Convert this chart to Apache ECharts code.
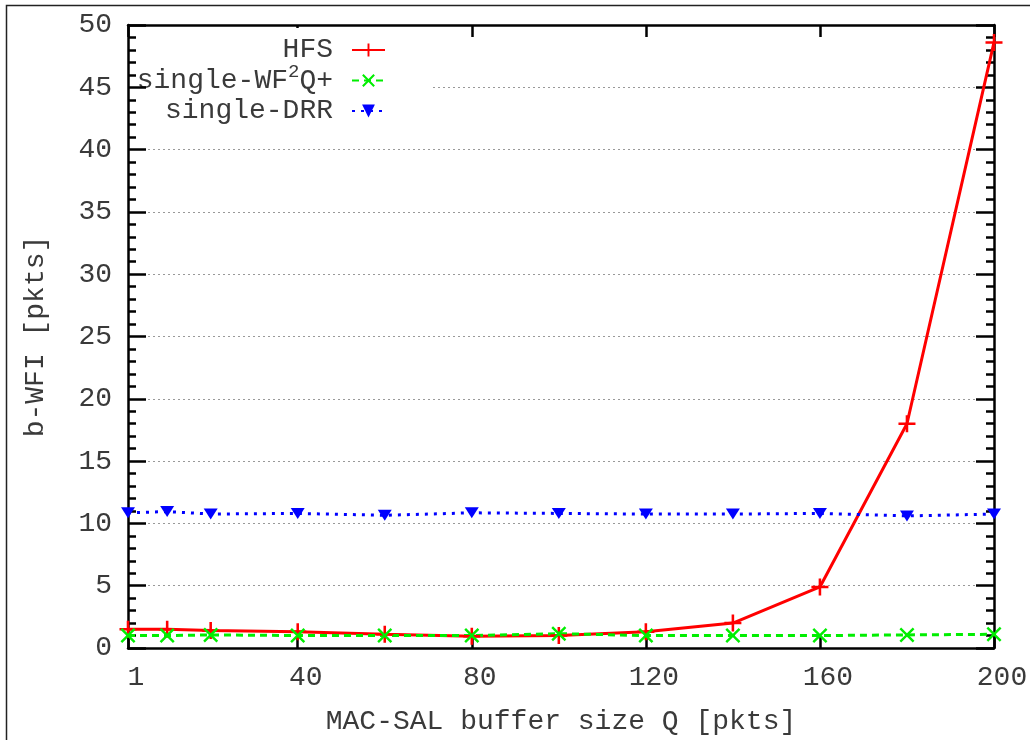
<!DOCTYPE html>
<html><head><meta charset="utf-8">
<script src="https://cdn.jsdelivr.net/npm/echarts@6/dist/echarts.min.js"></script>
<style>html,body{margin:0;padding:0;background:#fff}#c{width:1030px;height:740px}</style>
</head><body><div id="c"></div>
<script>
const xValues = [1, 10, 20, 40, 60, 80, 100, 120, 140, 160, 180, 200];
const hfsValues = [1.5, 1.5, 1.4, 1.3, 1.1, 0.95, 1.0, 1.3, 2.0, 4.9, 18.0, 48.6];
const wf2qValues = [1.0, 1.0, 1.05, 1.0, 1.0, 1.0, 1.15, 1.0, 1.0, 1.0, 1.05, 1.1];
const drrValues = [10.85, 10.95, 10.75, 10.8, 10.65, 10.85, 10.8, 10.75, 10.75, 10.8, 10.6, 10.75];
const xTickValues = [1, 40, 80, 120, 160, 200];
const seriesNames = ['HFS', 'single-WF2Q+', 'single-DRR'];
const xTitle = 'MAC-SAL buffer size Q [pkts]';
const yTitle = 'b-WFI [pkts]';

const FONT = 'Liberation Mono';
const TXT = '#3a3a3a';
const pair = ys => xValues.map((x, i) => [x, ys[i]]);
const plusPath = 'path://M-1.2,-8L1.2,-8L1.2,-1.2L8,-1.2L8,1.2L1.2,1.2L1.2,8L-1.2,8L-1.2,1.2L-8,1.2L-8,-1.2L-1.2,-1.2Z';
const crossPath = 'path://M-7,-5.4L-5.4,-7L0,-1.6L5.4,-7L7,-5.4L1.6,0L7,5.4L5.4,7L0,1.6L-5.4,7L-7,5.4L-1.6,0Z';
const blk = {color: '#000', width: 2.5};
const gridLine = {show: true, lineStyle: {color: '#999', width: 1, type: [2, 3]}};

const chart = echarts.init(document.getElementById('c'));
chart.setOption({
  animation: false,
  backgroundColor: '#fff',
  graphic: [{type: 'rect', z: 100, silent: true,
    shape: {x: 6.5, y: 5.5, width: 1100, height: 800},
    style: {fill: null, stroke: '#222', lineWidth: 1.5}}],
  grid: {left: 128, right: 36, top: 25, bottom: 92, outerBoundsMode: 'none'},
  legend: {
    orient: 'vertical', right: 600, top: 28, align: 'right',
    itemWidth: 33, itemHeight: 16, itemGap: -5.5,
    padding: [4, 44, 4, 6], backgroundColor: '#fff',
    data: seriesNames,
    formatter: n => n === 'single-WF2Q+' ? 'single-WF{s|2}Q+' : n,
    textStyle: {fontFamily: FONT, fontSize: 28, lineHeight: 36, color: TXT, padding: [0, 14, 0, 0],
      rich: {s: {fontFamily: FONT, fontSize: 19, color: TXT, verticalAlign: 'top'}}}
  },
  xAxis: [{
    type: 'value', position: 'bottom', min: 1, max: 200,
    name: xTitle, nameLocation: 'middle', nameGap: 60,
    nameTextStyle: {fontFamily: FONT, fontSize: 28, color: TXT},
    axisLine: {show: true, onZero: false, lineStyle: blk},
    axisTick: {show: true, inside: true, length: 12, customValues: xTickValues, lineStyle: blk},
    axisLabel: {customValues: xTickValues, fontFamily: FONT, fontSize: 28, color: TXT, margin: 16, padding: [0, 0, 0, 16]},
    splitLine: {show: false}
  }, {
    type: 'value', position: 'top', min: 1, max: 200,
    axisLine: {show: true, onZero: false, lineStyle: blk},
    axisTick: {show: true, inside: true, length: 12, customValues: xTickValues, lineStyle: blk},
    axisLabel: {show: false},
    splitLine: {show: false}
  }],
  yAxis: [{
    type: 'value', position: 'left', min: 0, max: 50, interval: 5, z: 10,
    name: yTitle, nameLocation: 'middle', nameGap: 78,
    nameTextStyle: {fontFamily: FONT, fontSize: 28, color: TXT},
    axisLine: {show: true, onZero: false, lineStyle: blk},
    axisTick: {show: true, inside: true, length: 18, lineStyle: blk},
    minorTick: {show: true, splitNumber: 5, length: 8, lineStyle: blk},
    axisLabel: {fontFamily: FONT, fontSize: 28, color: TXT, margin: 16},
    splitLine: {show: false}
  }, {
    type: 'value', position: 'right', min: 0, max: 50, interval: 5,
    axisLine: {show: true, onZero: false, lineStyle: blk},
    axisTick: {show: true, inside: true, length: 18, lineStyle: blk},
    minorTick: {show: true, splitNumber: 5, length: 8, lineStyle: blk},
    axisLabel: {show: false},
    splitLine: gridLine
  }],
  series: [{
    name: seriesNames[0], type: 'line', data: pair(hfsValues), clip: false, z: 12,
    symbol: plusPath, symbolSize: 17,
    lineStyle: {color: '#ff0000', width: 3}, itemStyle: {color: '#ff0000'}
  }, {
    name: seriesNames[1], type: 'line', data: pair(wf2qValues), clip: false, z: 12,
    symbol: crossPath, symbolSize: 15,
    lineStyle: {color: '#00ee00', width: 3, type: [7, 5]}, itemStyle: {color: '#00ee00'}
  }, {
    name: seriesNames[2], type: 'line', data: pair(drrValues), clip: false, z: 12,
    symbol: 'triangle', symbolRotate: 180, symbolSize: [14, 11],
    lineStyle: {color: '#0000ff', width: 3, type: [3, 6]}, itemStyle: {color: '#0000ff'}
  }]
});
</script></body></html>
